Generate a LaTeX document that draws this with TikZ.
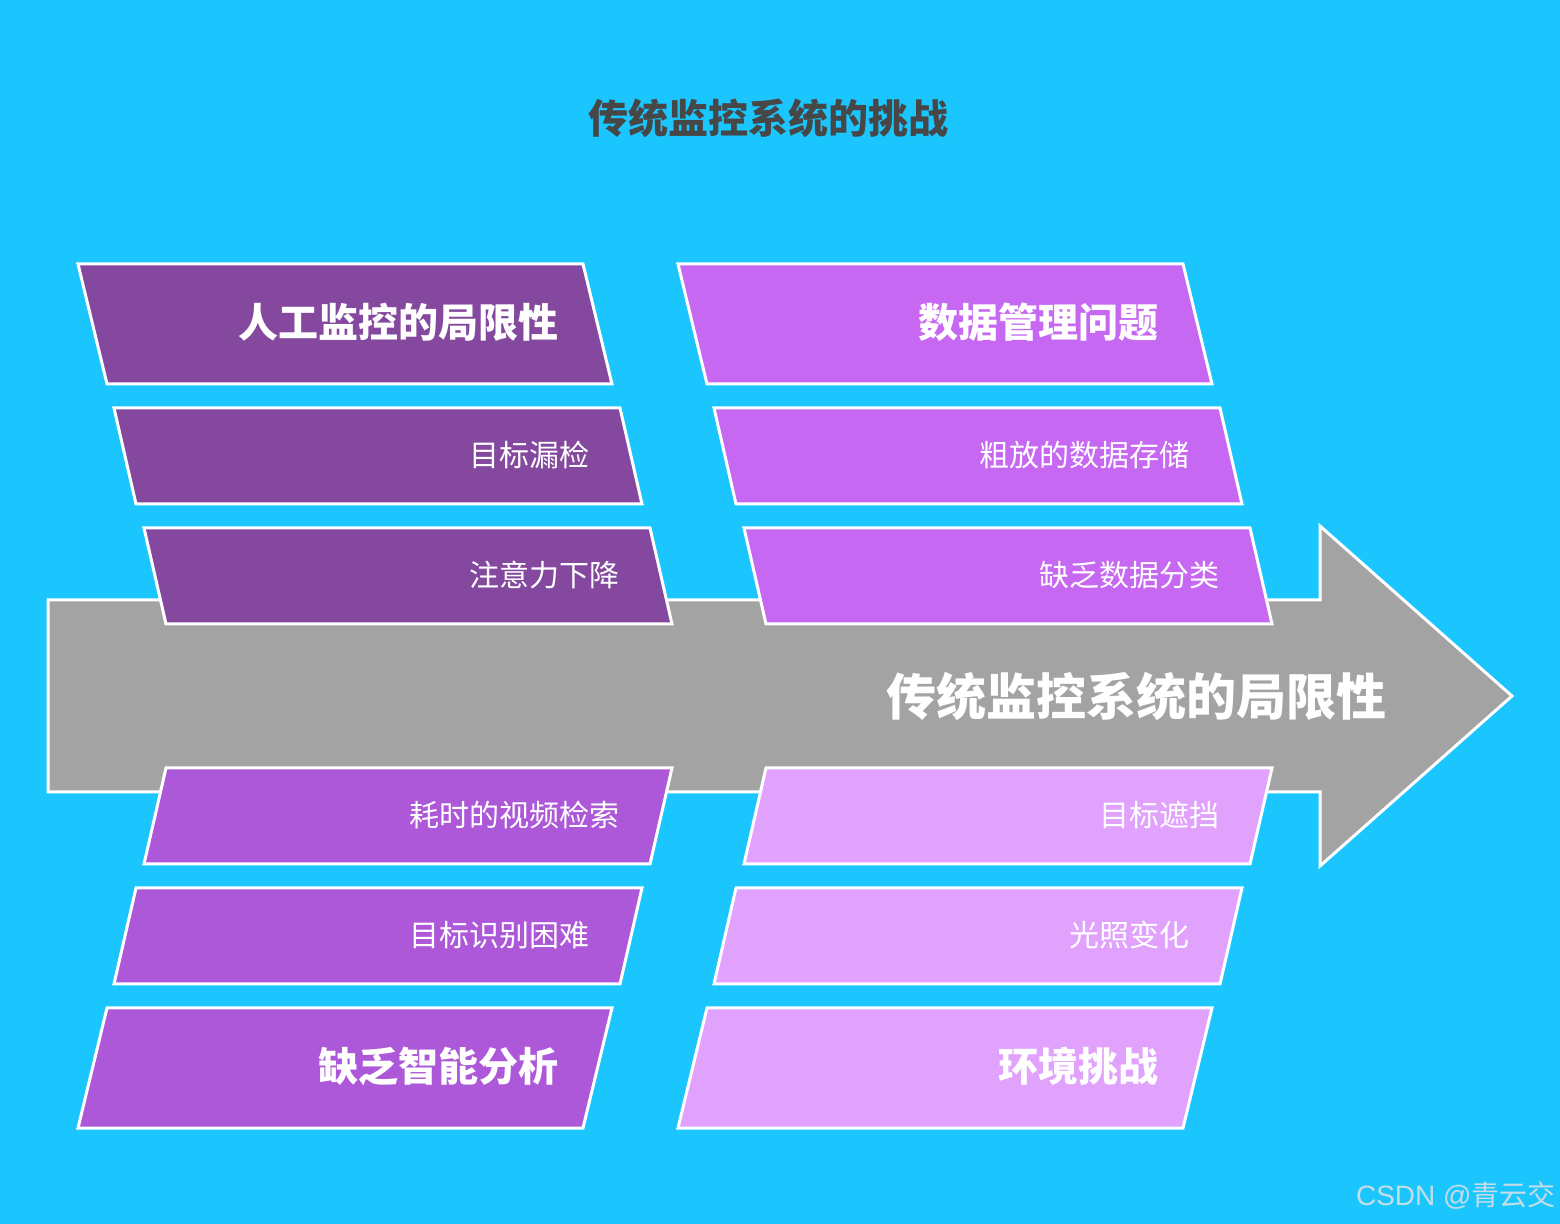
\documentclass[tikz,border=0pt]{standalone}
\usepackage{fontspec}
\setmainfont{Noto Sans CJK SC}
\newfontfamily\wmfont{Liberation Sans}
\newfontfamily\wmcjk{Noto Sans CJK SC}
\definecolor{bgc}{HTML}{1BC6FF}
\definecolor{arrowc}{HTML}{A3A3A3}
\definecolor{pA}{HTML}{84499E}
\definecolor{pB}{HTML}{AD58D8}
\definecolor{pC}{HTML}{C768F2}
\definecolor{pD}{HTML}{E0A2FC}
\definecolor{titlec}{HTML}{474747}
\definecolor{wmc}{HTML}{C4DDE6}
\tikzset{
  edge/.style={draw=white, line width=1.5pt, line join=miter},
  headtxt/.style={text=white, font=\fontsize{20}{24}\selectfont\bfseries, anchor=east, inner sep=0pt},
  itemtxt/.style={text=white, font=\fontsize{15}{18}\selectfont, anchor=east, inner sep=0pt},
}
\begin{document}
\begin{tikzpicture}[x=0.5pt,y=-0.5pt]
\fill[bgc] (0,0) rectangle (1560,1224);
\useasboundingbox (0,0) rectangle (1560,1224);
% title
\node[text=titlec, font=\fontsize{20}{24}\selectfont\bfseries, inner sep=0pt] (title) at (768,118) {传统监控系统的挑战};
% main arrow
\draw[edge, fill=arrowc] (48,600) -- (1320,600) -- (1320,526) -- (1512,696) -- (1320,866) -- (1320,792) -- (48,792) -- cycle;
\node[text=white, font=\fontsize{25}{30}\selectfont\bfseries, anchor=east, inner sep=0pt] (main) at (1387,696) {传统监控系统的局限性};
% left column upper
\draw[edge, fill=pA] (78,264) -- (583,264) -- (612,384) -- (107,384) -- cycle;
\node[headtxt] (l1) at (559,322) {人工监控的局限性};
\draw[edge, fill=pA] (114,408) -- (620,408) -- (642,504) -- (136,504) -- cycle;
\node[itemtxt] (l2) at (590,455) {目标漏检};
\draw[edge, fill=pA] (144,528) -- (650,528) -- (672,624) -- (166,624) -- cycle;
\node[itemtxt] (l3) at (620,575) {注意力下降};
% left column lower
\draw[edge, fill=pB] (166,768) -- (672,768) -- (650,864) -- (144,864) -- cycle;
\node[itemtxt] (l4) at (620,815) {耗时的视频检索};
\draw[edge, fill=pB] (136,888) -- (642,888) -- (620,984) -- (114,984) -- cycle;
\node[itemtxt] (l5) at (590,935) {目标识别困难};
\draw[edge, fill=pB] (107,1008) -- (612,1008) -- (583,1128) -- (78,1128) -- cycle;
\node[headtxt] (l6) at (559,1066) {缺乏智能分析};
% right column upper
\draw[edge, fill=pC] (678,264) -- (1183,264) -- (1212,384) -- (707,384) -- cycle;
\node[headtxt] (r1) at (1159,322) {数据管理问题};
\draw[edge, fill=pC] (714,408) -- (1220,408) -- (1242,504) -- (736,504) -- cycle;
\node[itemtxt] (r2) at (1190,455) {粗放的数据存储};
\draw[edge, fill=pC] (744,528) -- (1250,528) -- (1272,624) -- (766,624) -- cycle;
\node[itemtxt] (r3) at (1220,575) {缺乏数据分类};
% right column lower
\draw[edge, fill=pD] (766,768) -- (1272,768) -- (1250,864) -- (744,864) -- cycle;
\node[itemtxt] (r4) at (1220,815) {目标遮挡};
\draw[edge, fill=pD] (736,888) -- (1242,888) -- (1220,984) -- (714,984) -- cycle;
\node[itemtxt] (r5) at (1190,935) {光照变化};
\draw[edge, fill=pD] (707,1008) -- (1212,1008) -- (1183,1128) -- (678,1128) -- cycle;
\node[headtxt] (r6) at (1159,1066) {环境挑战};
% watermark
\node[text=wmc, anchor=east, inner sep=0pt, font=\fontsize{14}{16}\selectfont] (wm) at (1556,1196) {\wmfont CSDN @\wmcjk 青云交};
\end{tikzpicture}
\end{document}
